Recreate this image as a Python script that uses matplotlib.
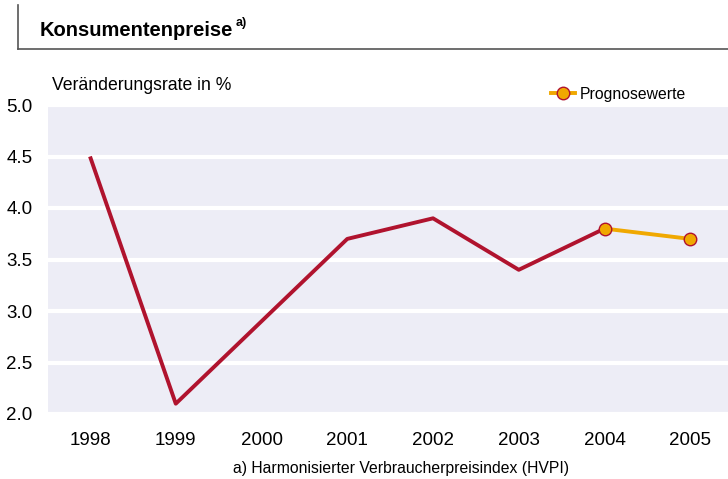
import matplotlib
matplotlib.use("Agg")
import matplotlib.pyplot as plt
from matplotlib.lines import Line2D

plt.rcParams['font.family'] = ['Liberation Sans', 'DejaVu Sans']

years = [1998, 1999, 2000, 2001, 2002, 2003, 2004]
values = [4.5, 2.1, 2.9, 3.7, 3.9, 3.4, 3.8]
fc_years = [2004, 2005]
fc_values = [3.8, 3.7]
yticks = [2.0, 2.5, 3.0, 3.5, 4.0, 4.5, 5.0]
xticks = [1998, 1999, 2000, 2001, 2002, 2003, 2004, 2005]

W, H = 728, 479
fig = plt.figure(figsize=(W/100, H/100), dpi=100)
ax = fig.add_axes([48/W, 1-414/H, 1-48/W, (414-105)/H])
ax.set_facecolor('#EDEDF6')
for s in ax.spines.values():
    s.set_visible(False)
ax.set_ylim(2.0, 5.0)
ax.set_xlim(1997.51, 2005.44)
ax.set_yticks(yticks)
ax.set_yticklabels([f"{v:.1f}" for v in yticks], fontsize=13.5)
ax.set_xticks(xticks)
ax.set_xticklabels([str(x) for x in xticks], fontsize=13.5)
ax.tick_params(axis='both', length=0)
ax.tick_params(axis='y', pad=11)
ax.tick_params(axis='x', pad=13)
ax.grid(axis='y', color='white', linewidth=3)
ax.set_axisbelow(True)

red = '#B0132E'
orange = '#F0A800'
ax.plot(years, values, color=red, linewidth=2.8, solid_capstyle='butt', zorder=3)
ax.plot(fc_years, fc_values, color=orange, linewidth=2.8, zorder=3,
        marker='o', markersize=9, markerfacecolor=orange, markeredgecolor=red,
        markeredgewidth=1.0)

handle = Line2D([], [], color=orange, linewidth=2.8, marker='o', markersize=9,
                markerfacecolor=orange, markeredgecolor=red, markeredgewidth=1.0)
fig.legend([handle], ['Prognosewerte'], loc='center left',
           bbox_to_anchor=(545/W, 1-94/H), frameon=False, fontsize=11.3,
           handlelength=1.5, handletextpad=0.3, borderaxespad=0)

fig.text(52/W, 1-85/H, 'Veränderungsrate in %', fontsize=12.7, va='center', ha='left')
fig.text(40/W, 1-31/H, 'Konsumentenpreise', fontsize=14.5, fontweight='bold',
         va='center', ha='left')
fig.text(236/W, 1-23/H, 'a)', fontsize=9, fontweight='bold', va='center', ha='left')
fig.text(401/W, 1-468/H, 'a) Harmonisierter Verbraucherpreisindex (HVPI)',
         fontsize=11.3, va='center', ha='center')

fig.add_artist(Line2D([18/W, 18/W], [1-5/H, 1-49/H], color='#555555', linewidth=1.2))
fig.add_artist(Line2D([18/W, 1.0], [1-49/H, 1-49/H], color='#555555', linewidth=1.2))

fig.savefig('out.png', dpi=100)
